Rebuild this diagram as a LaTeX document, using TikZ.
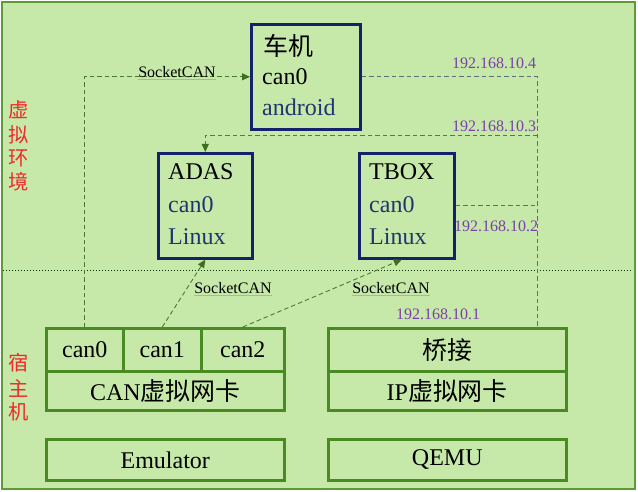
\documentclass[tikz,border=0pt]{standalone}
\usepackage{fontspec}
\setmainfont{Liberation Serif}
\newfontfamily\cjk[Scale=1.04]{Noto Sans CJK SC}
\usetikzlibrary{arrows.meta,calc}
\definecolor{bgfill}{HTML}{C6E9A9}
\definecolor{frame}{HTML}{5E9A35}
\definecolor{gbox}{HTML}{4A8A22}
\definecolor{navy}{HTML}{14226A}
\definecolor{bluetext}{HTML}{1F3570}
\definecolor{ipcol}{HTML}{7A3FA8}
\definecolor{sockcol}{HTML}{4A7A30}
\definecolor{iplinecol}{HTML}{5A6E74}
\definecolor{arrowcol}{HTML}{3E6E1E}
\definecolor{sidered}{HTML}{F02A2A}
\definecolor{squig}{HTML}{E59A9A}
\tikzset{
  vmbox/.style={draw=navy,line width=2.6pt,minimum width=#1,anchor=north west,inner sep=0pt},
  gcell/.style={draw=gbox,line width=2.6pt,anchor=north west,inner sep=0pt,font=\fontsize{24}{26}\selectfont},
  btxt/.style={anchor=west,inner sep=0pt,font=\fontsize{24}{26}\selectfont},
  iplab/.style={inner sep=0pt,text=ipcol,font=\fontsize{16}{18}\selectfont},
  socklab/.style={inner sep=0pt,font=\fontsize{16}{18}\selectfont},
  sockline/.style={draw=sockcol,line width=0.9pt,-{Triangle[length=8pt,width=7pt,color=arrowcol,fill=arrowcol]},dash pattern=on 4.5pt off 3pt},
  ipline/.style={draw=iplinecol,line width=0.9pt,dash pattern=on 4.5pt off 3pt},
  side/.style={inner sep=0pt,text=sidered,font=\cjk\fontsize{19.5}{20}\selectfont},
}
\begin{document}
\begin{tikzpicture}[x=1pt,y=-1pt]
\useasboundingbox (0,0) rectangle (638,492);
\draw[frame,line width=2pt,fill=bgfill] (2,2) rectangle (635,489);
\draw[dotted,line width=1pt,black!80!green] (3,271) -- (632,271);

% side labels
\node[side] (s1) at (19,110) {虚};
\node[side] (s2) at (19,135) {拟};
\node[side] (s3) at (19,158) {环};
\node[side] (s4) at (19,182) {境};
\node[side] (h1) at (19,363) {宿};
\node[side] (h2) at (19,388) {主};
\node[side] (h3) at (19,412) {机};

% virtual machine boxes
\node[vmbox=109pt,minimum height=105pt] (cj) at (250,23) {};
\node[btxt] (cj1) at (263,46) {\cjk 车机};
\node[btxt] (cj2) at (262,77) {can0};
\node[btxt,text=bluetext] (cj3) at (262,107) {android};

\node[vmbox=94pt,minimum height=105pt] (ad) at (157,152) {};
\node[btxt] (ad1) at (168,172) {ADAS};
\node[btxt,text=bluetext] (ad2) at (168,205) {can0};
\node[btxt,text=bluetext] (ad3) at (168,237) {Linux};

\node[vmbox=95pt,minimum height=105pt] (tb) at (358,152) {};
\node[btxt] (tb1) at (369,172) {TBOX};
\node[btxt,text=bluetext] (tb2) at (369,205) {can0};
\node[btxt,text=bluetext] (tb3) at (369,237) {Linux};

% host boxes
\node[gcell,minimum width=77pt,minimum height=43pt] (c0) at (45,327) {can0};
\node[gcell,minimum width=78pt,minimum height=43pt] (c1) at (122,327) {can1};
\node[gcell,minimum width=83pt,minimum height=43pt] (c2) at (200,327) {can2};
\node[gcell,minimum width=238pt,minimum height=39pt] (cv) at (45,370) {CAN{\cjk 虚拟网卡}};
\node[gcell,minimum width=238pt,minimum height=41pt] (em) at (45,438) {Emulator};

\node[gcell,minimum width=238pt,minimum height=43pt] (br) at (327,327) {\cjk 桥接};
\node[gcell,minimum width=238pt,minimum height=39pt] (ipv) at (327,370) {IP{\cjk 虚拟网卡}};
\node[gcell,minimum width=238pt,minimum height=41pt] (qe) at (327,438) {QEMU};

% connectors
\coordinate (vx) at (537,0);
\coordinate (j3) at (537,135);
\draw[ipline] (cj.east) -| (vx |- br.north);
\draw[ipline,-{Triangle[length=8pt,width=7pt,color=arrowcol,fill=arrowcol]}] (j3) -| (ad.north);
\draw[ipline] (tb.east) -- (tb.east -| vx);

\draw[sockline] (c0.north) |- (cj.west);
\draw[sockline] (c1.north) -- (ad.south);
\draw[sockline] (c2.north) -- ($(tb.south)+(-5,0)$);

% labels
\node[socklab] (sl1) at (177,72) {SocketCAN};
\node[socklab] (sl2) at (233,288) {SocketCAN};
\node[socklab] (sl3) at (391,288) {SocketCAN};
\foreach \n in {sl1,sl2,sl3}{\draw[squig,line width=0.7pt] ($(\n.south west)+(0,1.5)$) -- ($(\n.south east)+(0,1.5)$);}

\node[iplab] (ip4) at (494,63) {192.168.10.4};
\node[iplab] (ip3) at (494,126) {192.168.10.3};
\node[iplab] (ip2) at (496,226) {192.168.10.2};
\node[iplab] (ip1) at (438,314) {192.168.10.1};
\end{tikzpicture}
\end{document}
